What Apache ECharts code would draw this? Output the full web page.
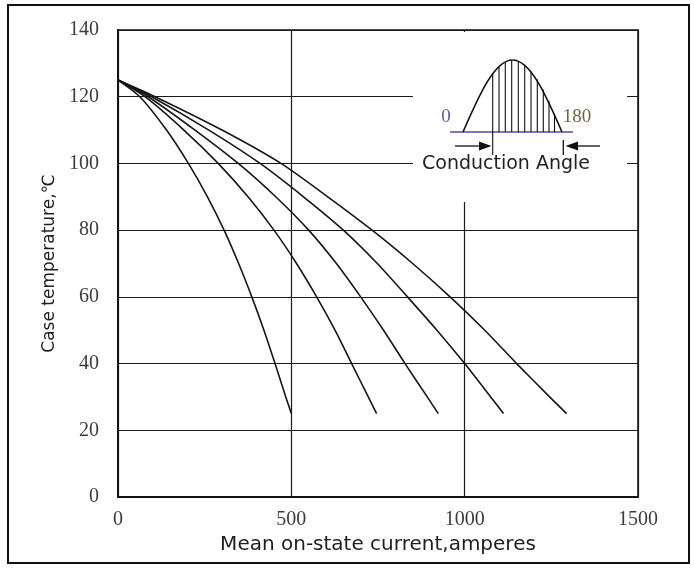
<!DOCTYPE html>
<html>
<head>
<meta charset="utf-8">
<script src="https://cdn.jsdelivr.net/npm/echarts@6/dist/echarts.min.js"></script>
<style>
html,body{margin:0;padding:0;background:#fff;}
#chart{width:694px;height:568px;}
</style>
</head>
<body>
<div id="chart"></div>
<script>
// ---- data ----
const angleNames = ['30°', '60°', '90°', '120°', '180°'];
const curve30  = [[0,125],[63,120],[140,110],[203,100],[258,90],[306,80],[348,70],[386,60],[421,50],[453,40],[484,30],[500,25]];
const curve60  = [[0,125],[78,120],[190,110],[289,100],[375,90],[450,80],[515,70],[573,60],[626,50],[674,40],[722,30],[746,25]];
const curve90  = [[0,125],[87,120],[222,110],[347,100],[455,90],[550,80],[630,70],[700,60],[766,50],[828,40],[892,30],[924,25]];
const curve120 = [[0,125],[97,120],[262,110],[410,100],[535,90],[650,80],[748,70],[835,60],[920,50],[1000,40],[1075,30],[1112,25]];
const curve180 = [[0,125],[107,120],[300,110],[470,100],[605,90],[733,80],[850,70],[958,60],[1058,50],[1150,40],[1245,30],[1294,25]];
const curves = [curve30, curve60, curve90, curve120, curve180];
// where each angle label sits (data units)
const labelAnchors = [[511,13.5],[762,13.5],[934,13.5],[1106,13.5],[1348,12.5]];
// axes
const xMin = 0, xMax = 1500, xStep = 500;
const yMin = 0, yMax = 140, yStep = 20;
const xTitle = 'Mean on-state current,amperes';
const yTitle = 'Case temperature,℃';
// inset texts
const insetTitle = 'Conduction Angle';
const insetStart = '0';
const insetEnd = '180';

const chart = echarts.init(document.getElementById('chart'), null, {renderer: 'canvas'});

const tickFont = {fontFamily: 'Liberation Serif', fontSize: 20, color: '#3c3c3c', formatter: v => String(v)};

const series = curves.map((c, i) => ({
  type: 'line',
  name: angleNames[i],
  data: c,
  smooth: 0.25,
  showSymbol: false,
  symbol: 'none',
  lineStyle: {color: '#161616', width: 1.6},
  z: 5,
  silent: true
}));
series.push({
  type: 'scatter',
  data: labelAnchors.map((p, i) => ({name: angleNames[i], value: p})),
  symbolSize: 1,
  itemStyle: {opacity: 0},
  label: {
    show: true, position: 'inside', formatter: p => p.name,
    fontFamily: 'Liberation Serif', fontSize: 20, color: '#2a2a2a'
  },
  silent: true,
  z: 6
});

// hatch lines inside the inset (pixel decoration): [x, topY]
const hatch = [[492.7,73.3],[499,66.6],[505.3,62],[511.7,60.1],[518.3,61],[524.7,64.7],[531,71],[537.3,79.5],[543.3,89.5],[549,101],[554.5,114]];
const g = [];
g.push({type:'rect', z:100, shape:{x:413, y:32, width:214, height:170}, style:{fill:'#fff', stroke:null}});
g.push({type:'line', z:101, shape:{x1:450, y1:132, x2:573, y2:132}, style:{stroke:'#4b4bb0', lineWidth:1.5}});
g.push({type:'bezierCurve', z:101, shape:{x1:463, y1:132, cpx1:479.1, cpy1:95.1, cpx2:494.6, cpy2:60, x2:512.5, y2:60}, style:{stroke:'#111', fill:null, lineWidth:1.6}});
g.push({type:'bezierCurve', z:101, shape:{x1:512.5, y1:60, cpx1:530.4, cpy1:60, cpx2:545.9, cpy2:95.1, x2:562, y2:132}, style:{stroke:'#111', fill:null, lineWidth:1.6}});
hatch.forEach((h, i) => {
  g.push({type:'line', z:101, shape:{x1:h[0], y1:(i === 0 ? 155 : 132), x2:h[0], y2:h[1]}, style:{stroke:'#111', lineWidth:1.1}});
});
g.push({type:'line', z:101, shape:{x1:563.3, y1:140, x2:563.3, y2:155}, style:{stroke:'#111', lineWidth:1.3}});
g.push({type:'line', z:101, shape:{x1:455, y1:146, x2:484, y2:146}, style:{stroke:'#111', lineWidth:1.3}});
g.push({type:'polygon', z:101, shape:{points:[[491.5,146],[479,141.5],[479,150.5]]}, style:{fill:'#111'}});
g.push({type:'line', z:101, shape:{x1:600, y1:146, x2:573, y2:146}, style:{stroke:'#111', lineWidth:1.3}});
g.push({type:'polygon', z:101, shape:{points:[[565.5,146],[578,141.5],[578,150.5]]}, style:{fill:'#111'}});
g.push({type:'text', z:102, x:446, y:117.5, style:{text:insetStart, fill:'#6a5a92', font:'19px "Liberation Serif"', align:'center', verticalAlign:'middle'}});
g.push({type:'text', z:102, x:577, y:117.5, style:{text:insetEnd, fill:'#6e6440', font:'19px "Liberation Serif"', align:'center', verticalAlign:'middle'}});
g.push({type:'text', z:102, x:506, y:164, style:{text:insetTitle, fill:'#222', font:'19px "DejaVu Sans"', align:'center', verticalAlign:'middle'}});
// outer frame
g.push({type:'rect', z:0, shape:{x:8, y:5, width:681, height:558}, style:{fill:null, stroke:'#111', lineWidth:2}});

chart.setOption({
  animation: false,
  backgroundColor: '#fff',
  grid: {left: 118, right: 56, top: 30, bottom: 71, show: true, borderColor: '#111', borderWidth: 1.5, backgroundColor: 'transparent'},
  xAxis: {
    type: 'value', min: xMin, max: xMax, interval: xStep,
    name: xTitle, nameLocation: 'middle', nameGap: 36,
    nameTextStyle: {fontFamily: 'DejaVu Sans', fontSize: 20, color: '#1e1e1e'},
    axisLine: {show: true, lineStyle: {color: '#111', width: 2}},
    axisTick: {show: false},
    axisLabel: Object.assign({margin: 13}, tickFont),
    splitLine: {show: true, lineStyle: {color: '#1a1a1a', width: 1.2}}
  },
  yAxis: {
    type: 'value', min: yMin, max: yMax, interval: yStep,
    name: yTitle, nameLocation: 'middle', nameGap: 60, nameRotate: 90,
    nameTextStyle: {fontFamily: 'DejaVu Sans', fontSize: 17, color: '#1e1e1e'},
    axisLine: {show: true, lineStyle: {color: '#111', width: 2}},
    axisTick: {show: false},
    axisLabel: Object.assign({margin: 19}, tickFont),
    splitLine: {show: true, lineStyle: {color: '#1a1a1a', width: 1.2}}
  },
  series: series,
  graphic: {elements: g}
});
</script>
</body>
</html>
